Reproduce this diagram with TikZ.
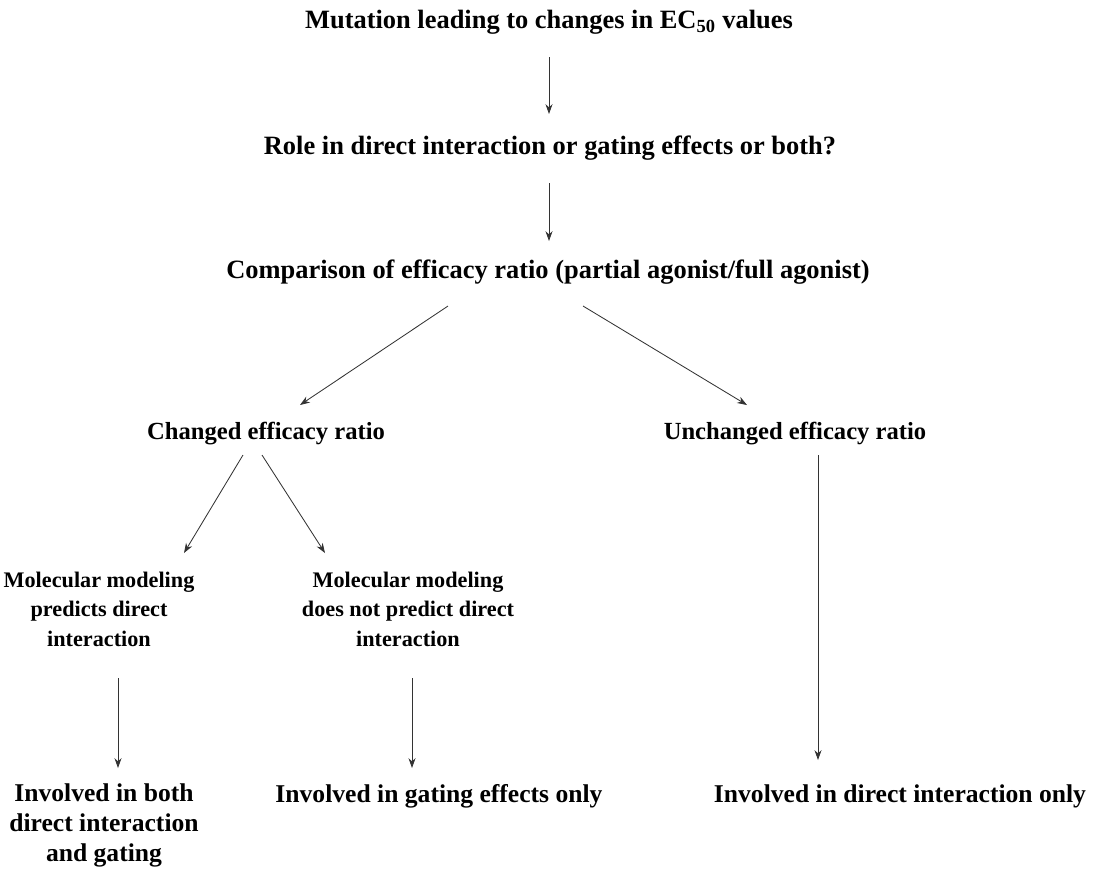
\documentclass[tikz,border=0pt]{standalone}
\usepackage{fontspec}
\setmainfont{Liberation Serif}
\usetikzlibrary{arrows.meta}
\tikzset{
  txt/.style={align=center, font=\fontsize{18.8}{21}\selectfont\bfseries, inner sep=0pt},
  txtm/.style={txt, font=\fontsize{17.5}{21}\selectfont\bfseries},
  txts/.style={txt, font=\fontsize{15.8}{21}\selectfont\bfseries},
  txtb/.style={txt, font=\fontsize{18.2}{21.3}\selectfont\bfseries},
  arr/.style={draw=black!80, line width=0.6pt, -{Stealth[length=7pt,width=5pt]}}
}
\begin{document}
\begin{tikzpicture}[x=0.025cm, y=-0.025cm]
    \useasboundingbox (0,0) rectangle (1099,870);

    \node[txt] (1) at (549, 22) {Mutation leading to changes in EC\textsubscript{50} values};
    \node[txt] (2) at (550, 148) {Role in direct interaction or gating effects or both?};
    \node[txt] (3) at (548, 272) {Comparison of efficacy ratio (partial agonist/full agonist)};

    \node[txtm] (4) at (266, 434) {Changed efficacy ratio};
    \node[txtm] (5) at (795, 434) {Unchanged efficacy ratio};

    \node[txts] (6) at (99, 609) {Molecular modeling\\predicts direct\\interaction};
    \node[txts] (7) at (408, 609) {Molecular modeling\\does not predict direct\\interaction};

    \node[txtb] (8) at (104, 825) {Involved in both\\direct interaction\\and gating};
    \node[txtb] (9) at (439, 796) {Involved in gating effects only};
    \node[txtb] (10) at (900, 796) {Involved in direct interaction only};

    \coordinate (1s) at (549, 57);   \coordinate (2e) at (549, 114);
    \coordinate (2s) at (549, 183);  \coordinate (3e) at (549, 241);
    \coordinate (3l) at (448, 306);  \coordinate (4e) at (300, 405);
    \coordinate (3r) at (583, 306);  \coordinate (5e) at (747, 405);
    \coordinate (4l) at (243, 455);  \coordinate (6e) at (184, 553);
    \coordinate (4r) at (262, 455);  \coordinate (7e) at (325, 553);
    \coordinate (6s) at (118, 678);  \coordinate (8e) at (118, 768);
    \coordinate (7s) at (412, 678);  \coordinate (9e) at (412, 768);
    \coordinate (5s) at (818, 455);  \coordinate (10e) at (818, 760);

    \draw[arr] (1s) -- (2e); % mutation - role
    \draw[arr] (2s) -- (3e); % role - comparison
    \draw[arr] (3l) -- (4e); % comparison - changed
    \draw[arr] (3r) -- (5e); % comparison - unchanged
    \draw[arr] (4l) -- (6e); % changed - predicts
    \draw[arr] (4r) -- (7e); % changed - does not predict
    \draw[arr] (6s) -- (8e); % predicts - both
    \draw[arr] (7s) -- (9e); % does not predict - gating only
    \draw[arr] (5s) -- (10e); % unchanged - direct only
\end{tikzpicture}
\end{document}
